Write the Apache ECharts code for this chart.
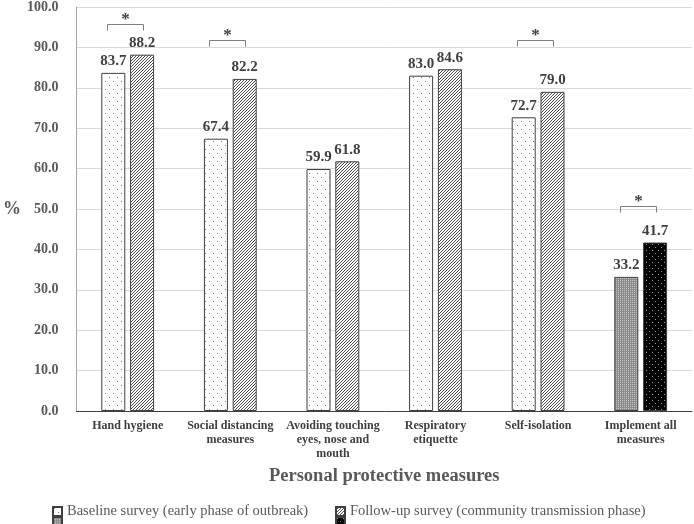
<!DOCTYPE html>
<html>
<head>
<meta charset="utf-8">
<script src="https://cdn.jsdelivr.net/npm/echarts@6/dist/echarts.min.js"></script>
<style>html,body{margin:0;padding:0;background:#fff}#main{width:694px;height:524px}</style>
</head>
<body>
<div id="main"></div>
<script>
const categories = ['Hand hygiene', 'Social distancing\nmeasures', 'Avoiding touching\neyes, nose and\nmouth', 'Respiratory\netiquette', 'Self-isolation', 'Implement all\nmeasures'];
const baseline = [83.7, 67.4, 59.9, 83.0, 72.7, '-'];
const followUp = [88.2, 82.2, 61.8, 84.6, 79.0, '-'];
const baselineAll = ['-', '-', '-', '-', '-', 33.2];
const followUpAll = ['-', '-', '-', '-', '-', 41.7];
const seriesNames = ['Baseline survey (early phase of outbreak)', 'Follow-up survey (community transmission phase)', 'Baseline (all measures)', 'Follow-up (all measures)'];
const legendLabels = ['Baseline survey (early phase of outbreak)', 'Follow-up survey (community transmission phase)', '', ''];
// significance brackets: [category index, bracket height in %]
const sigBrackets = [[0, 95.8], [1, 91.9], [4, 91.9], [5, 50.8]];
const yMin = 0, yMax = 100, yStep = 10;

const FONT = '"Liberation Serif", "Times New Roman", serif';

function makePattern(size, bg, fg, pixels) {
  const c = document.createElement('canvas');
  c.width = size; c.height = size;
  const ctx = c.getContext('2d');
  ctx.fillStyle = bg; ctx.fillRect(0, 0, size, size);
  ctx.fillStyle = fg;
  pixels.forEach(p => ctx.fillRect(p[0], p[1], 1, 1));
  return { image: c, repeat: 'repeat' };
}
const patDots = makePattern(8, '#ffffff', '#7a7a7a', [[1, 1], [5, 5]]);
const patHatch = makePattern(3, '#ffffff', '#4a4a4a', [[0, 2], [1, 1], [2, 0]]);
const patGray = makePattern(4, '#8c8c8c', '#c4c4c4', [[0, 0], [2, 2], [2, 0], [0, 2]]);
const patBlack = makePattern(6, '#000000', '#9a9a9a', [[1, 1], [4, 4]]);

const chart = echarts.init(document.getElementById('main'), null, { renderer: 'canvas' });

const labelStyle = {
  show: true, position: 'top', distance: 4,
  fontFamily: FONT, fontWeight: 'bold', fontSize: 15, color: '#404040',
  formatter: p => Number(p.value).toFixed(1)
};

function barSeries(name, data, color, stack) {
  return {
    name: name, type: 'bar', data: data, stack: stack,
    barWidth: 24, barGap: '20%',
    itemStyle: { color: color, borderColor: '#404040', borderWidth: 1 },
    label: labelStyle,
    emphasis: { disabled: true }
  };
}

function legendItem(i, left, top) {
  return {
    orient: 'horizontal', left: left, top: top, itemWidth: 9, itemHeight: 9, icon: 'rect',
    textStyle: { fontFamily: FONT, fontSize: 14.5, color: '#595959', lineHeight: 11 },
    formatter: name => legendLabels[seriesNames.indexOf(name)],
    selectedMode: false, data: [seriesNames[i]], padding: 0
  };
}

chart.setOption({
  animation: false,
  backgroundColor: '#ffffff',
  grid: { left: 72, right: 2, top: 7, bottom: 113, containLabel: false },
  legend: [
    legendItem(0, 52, 504),
    legendItem(1, 335, 504),
    legendItem(2, 52, 516),
    legendItem(3, 335, 516)
  ],
  xAxis: {
    type: 'category', data: categories,
    axisTick: { show: false },
    axisLine: { show: true, lineStyle: { color: '#404040', width: 1 } },
    axisLabel: { interval: 0, margin: 8, fontFamily: FONT, fontWeight: 'bold', fontSize: 12, color: '#404040', lineHeight: 14 },
    name: 'Personal protective measures', nameLocation: 'middle', nameGap: 56,
    nameTextStyle: { fontFamily: FONT, fontWeight: 'bold', fontSize: 18.5, color: '#595959' }
  },
  yAxis: {
    type: 'value', min: yMin, max: yMax, interval: yStep,
    axisLine: { show: true, lineStyle: { color: '#a6a6a6', width: 1 } },
    axisTick: { show: false },
    splitLine: { show: true, lineStyle: { color: '#d9d9d9', width: 1 } },
    axisLabel: { margin: 18, fontFamily: FONT, fontWeight: 'bold', fontSize: 14, color: '#595959', formatter: v => v.toFixed(1) },
    name: '%', nameLocation: 'middle', nameRotate: 0, nameGap: 55,
    nameTextStyle: { fontFamily: FONT, fontWeight: 'bold', fontSize: 18, color: '#595959' }
  },
  series: [
    barSeries(seriesNames[0], baseline, patDots, 'a'),
    barSeries(seriesNames[1], followUp, patHatch, 'b'),
    barSeries(seriesNames[2], baselineAll, patGray, 'a'),
    barSeries(seriesNames[3], followUpAll, patBlack, 'b'),
    {
      type: 'custom', name: 'sig', data: sigBrackets, z: 10,
      encode: { x: 0, y: 1 }, silent: true,
      renderItem: function (params, api) {
        const c = api.coord([api.value(0), api.value(1)]);
        const cx = Math.round(c[0] - 3) + 0.5;
        const y = Math.round(c[1]) + 0.5;
        const hw = 18;
        return {
          type: 'group', children: [
            { type: 'polyline', shape: { points: [[cx - hw, y + 6], [cx - hw, y], [cx + hw, y], [cx + hw, y + 6]] },
              style: { stroke: '#7f7f7f', lineWidth: 1, fill: null } },
            { type: 'text', x: cx, y: y - 5,
              style: { text: '*', align: 'center', verticalAlign: 'middle', font: 'bold 17px ' + FONT, fill: '#404040' } }
          ]
        };
      }
    }
  ]
});
</script>
</body>
</html>
